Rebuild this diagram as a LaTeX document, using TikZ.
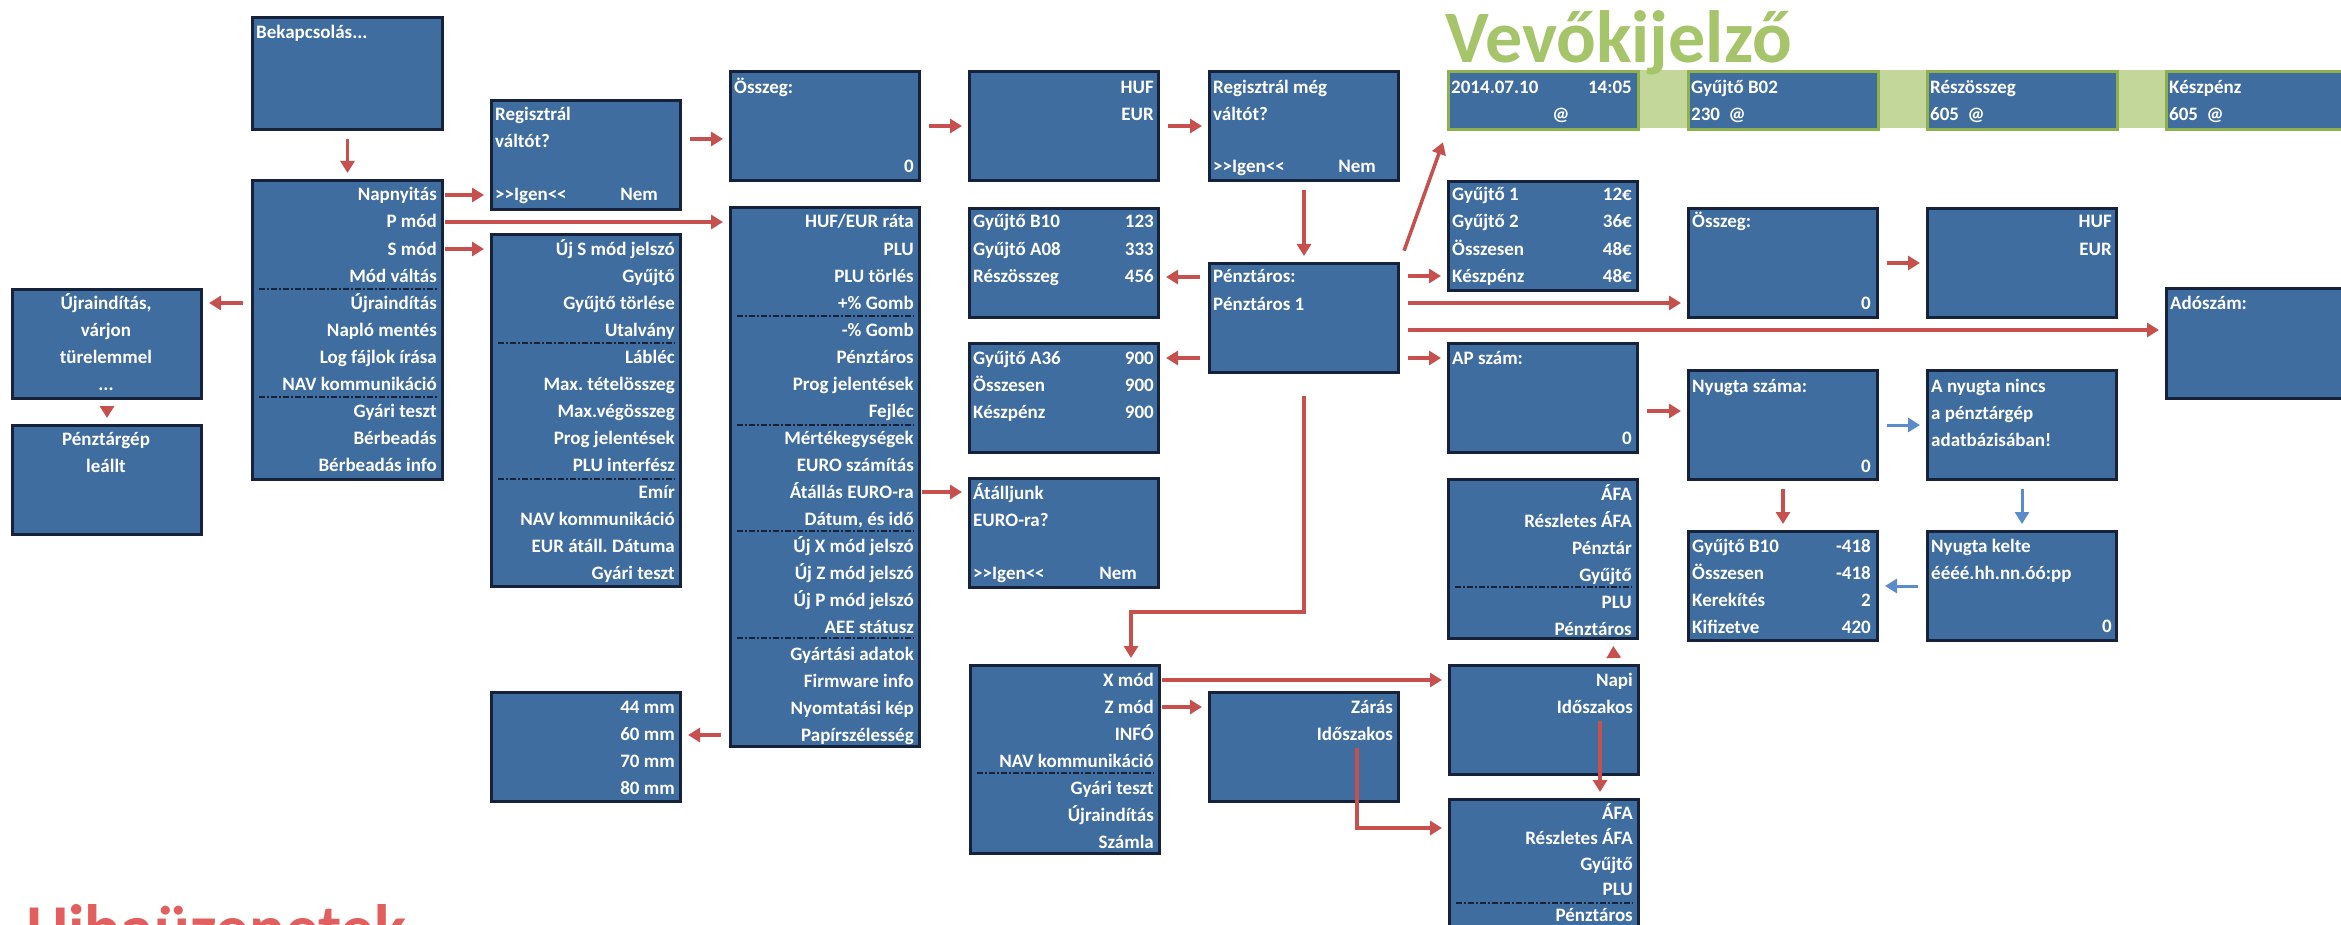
\documentclass[tikz,border=0pt]{standalone}
\usepackage{fontspec}
\setmainfont{Carlito}
\usepackage{xcolor}
\usepackage{tikz}
\usetikzlibrary{calc,arrows.meta,positioning}
\definecolor{scrc}{HTML}{3F6D9F}
\definecolor{edgec}{HTML}{16213A}
\definecolor{redc}{HTML}{C5504D}
\definecolor{bluec}{HTML}{5B8BC8}
\definecolor{bandc}{HTML}{C4D79B}
\definecolor{greenc}{HTML}{8EB04E}
\definecolor{titlec}{HTML}{A6C46A}
\definecolor{errc}{HTML}{E25F5F}
\tikzset{
  scr/.style={draw=edgec,line width=3pt,fill=scrc,anchor=north west,inner sep=0pt},
  std/.style={scr,minimum width=189pt,minimum height=109pt},
  vscr/.style={draw=greenc,line width=3pt,fill=scrc,anchor=north west,inner sep=0pt,minimum height=58pt},
  it/.style={text=white,font=\bfseries\fontsize{19}{27}\selectfont,inner sep=0pt,text height=12pt,text depth=0pt},
  ar/.style={-{Triangle[length=12pt,width=14pt]},line width=3.5pt,redc,shorten <=8pt,shorten >=6pt},
  ab/.style={ar,bluec,line width=3pt},
  sep/.style={edgec,line width=1.3pt,dash pattern=on 6pt off 2pt on 2pt off 2pt}
}
\begin{document}
\frenchspacing
\begin{tikzpicture}[x=1pt,y=-1pt]
\useasboundingbox (0,0) rectangle (2341,925);
\fill[white] (0,0) rectangle (2341,925);
\clip (0,0) rectangle (2341,925);
\fill[bandc] (1447,70) rectangle (2341,128);
\node[vscr,minimum width=190pt] (v1) at (1447,70) {};
\node[vscr,minimum width=190pt] (v2) at (1687,70) {};
\node[vscr,minimum width=190pt] (v3) at (1926,70) {};
\node[vscr,minimum width=200pt] (v4) at (2165,70) {};
\node[scr,minimum width=190pt,minimum height=112pt] (bekap) at (251,16) {};
\node[scr,minimum width=190pt,minimum height=299pt] (menu) at (251,179) {};
\node[std] (regis) at (490,99) {};
\node[scr,minimum width=189pt,minimum height=352pt] (smenu) at (490,233) {};
\node[std] (restart) at (11,288) {};
\node[std] (halt) at (11,424) {};
\node[std] (osszeg1) at (729,70) {};
\node[std] (curr1) at (968,70) {};
\node[std] (regis2) at (1208,70) {};
\node[scr,minimum width=189pt,minimum height=539pt] (pmenu) at (729,206) {};
\node[std] (gyb10) at (968,207) {};
\node[std] (penzt) at (1208,262) {};
\node[std] (gya36) at (968,342) {};
\node[std] (atall) at (968,477) {};
\node[std] (mm) at (490,691) {};
\node[scr,minimum width=189pt,minimum height=188pt] (xmenu) at (969,664) {};
\node[std] (zaras) at (1208,691) {};
\node[std] (napi) at (1448,664) {};
\node[scr,minimum width=189pt,minimum height=160pt] (afa2) at (1448,798) {};
\node[scr,minimum width=189pt,minimum height=159pt] (afa1) at (1447,478) {};
\node[std] (gy1) at (1447,180) {};
\node[std] (osszeg2) at (1687,207) {};
\node[std] (curr2) at (1926,207) {};
\node[scr,minimum width=200pt,minimum height=110pt] (adoszam) at (2165,287) {};
\node[std] (apszam) at (1447,342) {};
\node[std] (nyszam) at (1687,369) {};
\node[std] (nincs) at (1926,369) {};
\node[std] (gyb10b) at (1687,530) {};
\node[std] (kelte) at (1926,530) {};
\foreach \y in {289,397} \draw[sep] (259,\y) -- (437,\y);
\foreach \y in {343,479} \draw[sep] (498,\y) -- (675,\y);
\foreach \y in {316,425,531,638} \draw[sep] (737,\y) -- (914,\y);
\draw[sep] (977,773) -- (1154,773);
\draw[sep] (1455,587) -- (1632,587);
\draw[sep] (1456,903) -- (1633,903);
\node[anchor=base west,inner sep=0pt,text=titlec,font=\bfseries\fontsize{74}{74}\selectfont] (title) at (1445,63) {Vevőkijelző};
\node[anchor=base west,inner sep=0pt,text=errc,font=\bfseries\fontsize{67}{67}\selectfont] (hiba) at (26,951) {Hibaüzenetek};
\node[it,anchor=west] (bekapt) at (256,33) {Bekapcsolás...};
\foreach \t [count=\i] in {Napnyitás,P mód,S mód,Mód váltás,Újraindítás,Napló mentés,Log fájlok írása,NAV kommunikáció,Gyári teszt,Bérbeadás,Bérbeadás info}
  \node[it,anchor=east] (m\i) at (437,{195+27*(\i-1)}) {\t};
\foreach \t [count=\i] in {Új S mód jelszó,Gyűjtő,Gyűjtő törlése,Utalvány,Lábléc,Max. tételösszeg,Max.végösszeg,Prog jelentések,PLU interfész,Emír,NAV kommunikáció,EUR átáll. Dátuma,Gyári teszt}
  \node[it,anchor=east] (s\i) at (675,{249+27*(\i-1)}) {\t};
\foreach \t [count=\i] in {{HUF/EUR ráta},PLU,PLU törlés,+\% Gomb,-\% Gomb,Pénztáros,Prog jelentések,Fejléc,Mértékegységek,EURO számítás,Átállás EURO-ra,{Dátum, és idő},Új X mód jelszó,Új Z mód jelszó,Új P mód jelszó,AEE státusz,Gyártási adatok,Firmware info,Nyomtatási kép,Papírszélesség}
  \node[it,anchor=east] (p\i) at (914,{222+27*(\i-1)}) {\t};
\foreach \t [count=\i] in {X mód,Z mód,INFÓ,NAV kommunikáció,Gyári teszt,Újraindítás,Számla}
  \node[it,anchor=east] (x\i) at (1154,{680+27*(\i-1)}) {\t};
\foreach \t [count=\i] in {44 mm,60 mm,70 mm,80 mm}
  \node[it,anchor=east] (mm\i) at (675,{707+27*(\i-1)}) {\t};
\foreach \t [count=\i] in {ÁFA,Részletes ÁFA,Pénztár,Gyűjtő,PLU,Pénztáros}
  \node[it,anchor=east] (fa\i) at (1632,{494+27*(\i-1)}) {\t};
\foreach \t [count=\i] in {ÁFA,Részletes ÁFA,Gyűjtő,PLU,Pénztáros}
  \node[it,anchor=east] (fb\i) at (1633,{813+25.5*(\i-1)}) {\t};
\node[it,anchor=east] (n1) at (1633,680) {Napi};
\node[it,anchor=east] (n2) at (1633,707) {Időszakos};
\node[it,anchor=east] (z1) at (1393,707) {Zárás};
\node[it,anchor=east] (z2) at (1393,734) {Időszakos};
\foreach \l/\r [count=\i] in {Gyűjtő B10/123,Gyűjtő A08/333,Részösszeg/456}{
  \node[it,anchor=west] (ba\i) at (973,{195+27*\i}) {\l};
  \node[it,anchor=east] (bb\i) at (1154,{195+27*\i}) {\r};
}
\foreach \l/\r [count=\i] in {Gyűjtő A36/900,Összesen/900,Készpénz/900}{
  \node[it,anchor=west] (ca\i) at (973,{331+27*\i}) {\l};
  \node[it,anchor=east] (cb\i) at (1154,{331+27*\i}) {\r};
}
\foreach \l/\r [count=\i] in {Gyűjtő 1/12€,Gyűjtő 2/36€,Összesen/48€,Készpénz/48€}{
  \node[it,anchor=west] (da\i) at (1452,{168+27*\i}) {\l};
  \node[it,anchor=east] (db\i) at (1632,{168+27*\i}) {\r};
}
\foreach \l/\r [count=\i] in {Gyűjtő B10/-418,Összesen/-418,Kerekítés/2,Kifizetve/420}{
  \node[it,anchor=west] (ea\i) at (1692,{519+27*\i}) {\l};
  \node[it,anchor=east] (eb\i) at (1871,{519+27*\i}) {\r};
}
\node[it,anchor=west] (rg1) at (495,115) {Regisztrál};
\node[it,anchor=west] (rg2) at (495,142) {váltót?};
\node[it,anchor=west] (rg3) at (495,195) {{>}{>}Igen{<}{<}};
\node[it,anchor=east] (rg4) at (658,195) {Nem};
\node[it,anchor=west] (rm1) at (1213,88) {Regisztrál még};
\node[it,anchor=west] (rm2) at (1213,115) {váltót?};
\node[it,anchor=west] (rm3) at (1213,167) {{>}{>}Igen{<}{<}};
\node[it,anchor=east] (rm4) at (1376,167) {Nem};
\node[it,anchor=west] (at1) at (973,493) {Átálljunk};
\node[it,anchor=west] (at2) at (973,520) {EURO-ra?};
\node[it,anchor=west] (at3) at (973,573) {{>}{>}Igen{<}{<}};
\node[it,anchor=east] (at4) at (1137,573) {Nem};
\node[it,anchor=west] (o1a) at (734,88) {Összeg:};
\node[it,anchor=east] (o1z) at (914,167) {0};
\node[it,anchor=east] (c1a) at (1154,88) {HUF};
\node[it,anchor=east] (c1b) at (1154,115) {EUR};
\node[it,anchor=west] (pz1) at (1213,277) {Pénztáros:};
\node[it,anchor=west] (pz2) at (1213,304) {Pénztáros 1};
\node[it] (rs1) at (106,303) {Újraindítás,};
\node[it] (rs2) at (106,330) {várjon};
\node[it] (rs3) at (106,357) {türelemmel};
\node[it] (rs4) at (106,384) {...};
\node[it] (ha1) at (106,439) {Pénztárgép};
\node[it] (ha2) at (106,466) {leállt};
\node[it,anchor=west] (o2a) at (1692,222) {Összeg:};
\node[it,anchor=east] (o2z) at (1871,303) {0};
\node[it,anchor=east] (c2a) at (2112,222) {HUF};
\node[it,anchor=east] (c2b) at (2112,249) {EUR};
\node[it,anchor=west] (ado) at (2170,303) {Adószám:};
\node[it,anchor=west] (apt) at (1452,358) {AP szám:};
\node[it,anchor=east] (apz) at (1632,438) {0};
\node[it,anchor=west] (nyt) at (1692,386) {Nyugta száma:};
\node[it,anchor=east] (nyz) at (1871,466) {0};
\node[it,anchor=west] (ni1) at (1931,386) {A nyugta nincs};
\node[it,anchor=west] (ni2) at (1931,413) {a pénztárgép};
\node[it,anchor=west] (ni3) at (1931,440) {adatbázisában!};
\node[it,anchor=west] (ke1) at (1931,546) {Nyugta kelte};
\node[it,anchor=west] (ke2) at (1931,573) {éééé.hh.nn.óó:pp};
\node[it,anchor=east] (kez) at (2112,626) {0};
\node[it,anchor=west] (v1a) at (1451,88) {2014.07.10};
\node[it,anchor=east] (v1b) at (1632,88) {14:05};
\node[it] (v1c) at (1561,115) {@};
\node[it,anchor=west] (v2a) at (1691,88) {Gyűjtő B02};
\node[it,anchor=west] (v2b) at (1691,115) {230\ \ @};
\node[it,anchor=west] (v3a) at (1930,88) {Részösszeg};
\node[it,anchor=west] (v3b) at (1930,115) {605\ \ @};
\node[it,anchor=west] (v4a) at (2169,88) {Készpénz};
\node[it,anchor=west] (v4b) at (2169,115) {605\ \ @};
\draw[ar] (bekap.south) -- (menu.north);
\draw[ar] (m1.east) -- (regis.west |- m1);
\draw[ar] (m2.east) -- (pmenu.west |- m2);
\draw[ar] (m3.east) -- (smenu.west |- m3);
\draw[ar] (menu.west |- m5) -- (restart.east |- m5);
\draw[ar] (restart.south) -- (halt.north);
\draw[ar] ([yshift=16pt]regis.east) -- ([yshift=16pt]regis.east -| osszeg1.west);
\draw[ar] (osszeg1.east) -- (curr1.west);
\draw[ar] (curr1.east) -- (regis2.west);
\draw[ar] (regis2.south) -- (penzt.north);
\draw[ar] (penzt.west |- pz1) -- (gyb10.east |- pz1);
\draw[ar] (penzt.west |- ca1) -- (gya36.east |- ca1);
\draw[ar] (p11.east) -- (atall.west |- p11);
\draw[ar] (pmenu.west |- p20) -- (mm.east |- p20);
\coordinate (bend) at (1131,612);
\draw[ar] ([yshift=-14pt]penzt.south) |- (bend) -- (bend |- xmenu.north);
\draw[ar] (x1.east) -- (napi.west |- x1);
\draw[ar] (x2.east) -- (zaras.west |- x2);
\coordinate (zb) at (1357,828);
\draw[ar] (z2.south -| zb) |- (afa2.west |- zb);
\draw[ar] ([xshift=70pt]napi.north) -- ([xshift=70pt]afa1.south);
\draw[ar] ([xshift=-33pt]n2.south east) -- ([xshift=-33pt]n2.south east |- afa2.north);
\draw[ar,shorten <=12pt,shorten >=12pt] (penzt.north east) -- (v1.south west);
\draw[ar] (penzt.east |- db4) -- (gy1.west |- db4);
\draw[ar] (penzt.east |- o2z) -- (osszeg2.west |- o2z);
\draw[ar] ([yshift=-12pt]penzt.east) -- ([yshift=-12pt]penzt.east -| adoszam.west);
\draw[ar] (penzt.east |- apt) -- (apszam.west |- apt);
\draw[ar] ([yshift=-13pt]apszam.east) -- ([yshift=-13pt]apszam.east -| nyszam.west);
\draw[ab] (nyszam.east) -- (nincs.west);
\draw[ar] (nyszam.south) -- (gyb10b.north);
\draw[ab] (nincs.south) -- (kelte.north);
\draw[ab] (kelte.west) -- (gyb10b.east);
\draw[ar] (osszeg2.east) -- (curr2.west);
\end{tikzpicture}
\end{document}
